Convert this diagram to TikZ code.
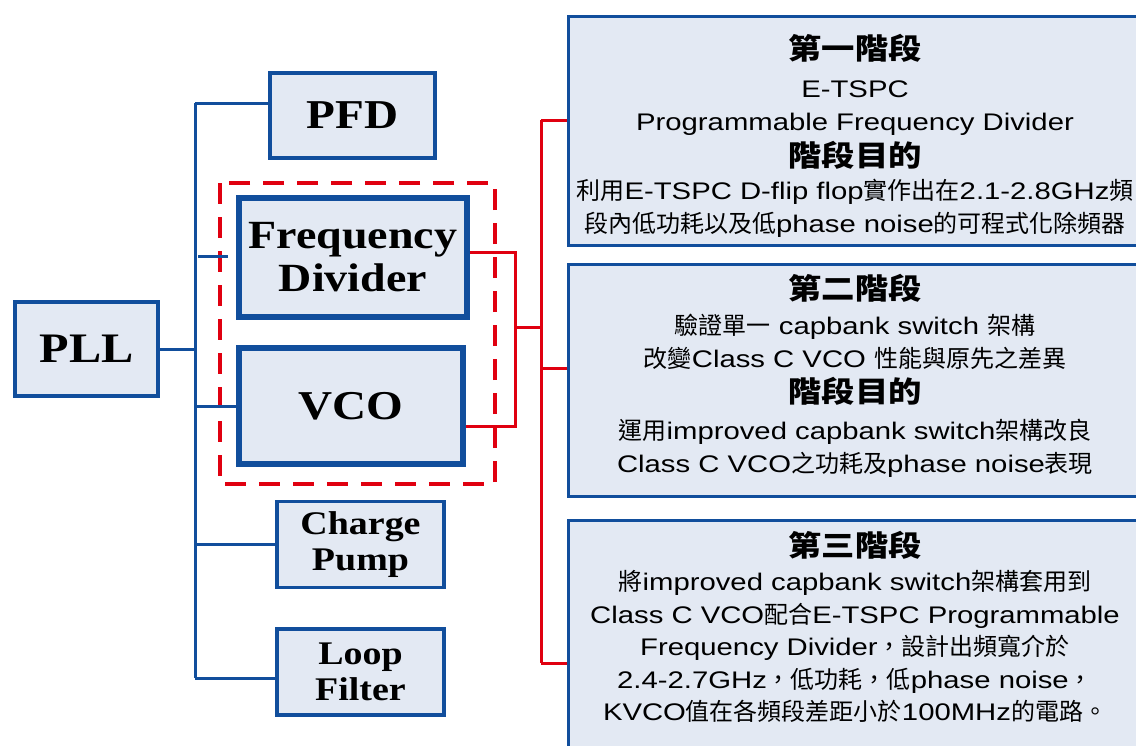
\documentclass[tikz,border=0pt]{standalone}
\usepackage{fontspec}
\setmainfont[FakeStretch=1.22]{Liberation Sans}
\newfontfamily\cjk{Noto Sans CJK TC}
\newfontfamily\cjkhead[FakeStretch=1.15]{Noto Sans CJK TC}
\newfontfamily\tnr[FakeStretch=1.15]{Liberation Serif}
\usepackage{xcolor}
\usepackage{tikz}
\usetikzlibrary{positioning, calc}
\definecolor{pllblue}{HTML}{114E9C}
\definecolor{boxfill}{HTML}{E3E9F3}
\definecolor{pllred}{HTML}{E00010}
\newcommand{\zh}[1]{{\cjk #1}}
\newcommand{\heading}[1]{{\cjkhead\bfseries\fontsize{29}{33}\selectfont #1}}
\tikzset{
    blk/.style={draw=pllblue, fill=boxfill, line width=3.5pt, align=center, inner sep=0pt,
        font=\tnr\bfseries\fontsize{41}{43}\selectfont},
    thickblk/.style={blk, line width=5.5pt, font=\tnr\bfseries\fontsize{40}{43}\selectfont},
    smallblk/.style={blk, minimum width=167pt, minimum height=86pt,
        font=\tnr\bfseries\fontsize{33}{36}\selectfont},
    stage/.style={draw=pllblue, fill=boxfill, line width=3pt, minimum width=572pt},
    stagetext/.style={align=center, inner sep=0pt, font=\fontsize{24}{33}\selectfont},
    bluelink/.style={draw=pllblue, line width=3pt},
    redlink/.style={draw=pllred, line width=3pt},
    % dashed frame round divider and VCO
    group/.style={draw=pllred, line width=4pt, dash pattern=on 21pt off 13pt},
}

\begin{document}
\begin{tikzpicture}[x=1pt, y=-1pt]
    \useasboundingbox (0,0) rectangle (1136,745);
    \clip (0,0) rectangle (1136,745);
    \fill[white] (0,0) rectangle (1136,745);

    \draw[group] (220,183) rectangle (495,484);

    \node[blk, minimum width=143pt, minimum height=94pt, font=\tnr\bfseries\fontsize{42}{43}\selectfont] (pll) at (86.5,349) {PLL};
    \node[blk, minimum width=165pt, minimum height=85pt] (pfd) at (352.5,115.5) {PFD};
    \node[thickblk, minimum width=228pt, minimum height=119pt] (fd) at (353,257.5) {Frequency\\Divider};
    \node[thickblk, minimum width=224pt, minimum height=116pt, font=\tnr\bfseries\fontsize{41}{43}\selectfont] (vco) at (351,406) {VCO};
    \node[smallblk] (cp) at (360.5,544.5) {Charge\\Pump};
    \node[smallblk] (lf) at (360.5,672) {Loop\\Filter};

    \coordinate (ttop) at (195,103);
    \coordinate (tbot) at (195,678);
    \draw[bluelink] (ttop) -- (tbot);
    \draw[bluelink] (ttop) -- (ttop -| pfd.west);
    \draw[bluelink] (pll.east) -- (pll.east -| ttop);
    \draw[bluelink] (ttop |- vco.west) -- (vco.west);
    \draw[bluelink] (ttop |- cp.west) -- (cp.west);
    \draw[bluelink] (tbot) -- (tbot -| lf.west);
    \coordinate (stub) at ($(fd.west)+(-38,-1.5)$);
    \draw[bluelink] (stub) -- ++(30,0);

    \node[stage, minimum height=229pt] (s1) at (854.5,131) {};
    \node[stage, minimum height=232pt] (s2) at (854.5,380.5) {};
    \node[stage, minimum height=240pt] (s3) at (854.5,640) {};

    \coordinate (fdout) at ($(fd.east)+(0,-5.5)$);
    \coordinate (vcoout) at ($(vco.east)+(0,20)$);
    \coordinate (rjoin) at (515,327);
    \coordinate (rtop) at (541,120);
    \coordinate (rmid) at (541,368);
    \coordinate (rbot) at (541,663);
    \draw[redlink] (fdout) -| (rjoin) |- (vcoout);
    \draw[redlink] (rjoin) -- (rjoin -| rtop);
    \draw[redlink] (rtop) -- (rbot);
    \draw[redlink] (rtop) -- (rtop -| s1.west);
    \draw[redlink] (rmid) -- (rmid -| s2.west);
    \draw[redlink] (rbot) -- (rbot -| s3.west);

    \node[stagetext] (t1) at (855,136) {\heading{第一階段}\\[5pt]
        E-TSPC\\
        Programmable Frequency Divider\\[3pt]
        \heading{階段目的}\\
        \zh{利用}E-TSPC D-flip flop\zh{實作出在}2.1-2.8GHz\zh{頻}\\
        \zh{段內低功耗以及低}phase noise\zh{的可程式化除頻器}};
    \node[stagetext] (t2) at (855,376) {\heading{第二階段}\\[2pt]
        \zh{驗證單一} capbank switch \zh{架構}\\
        \zh{改變}Class C VCO \zh{性能與原先之差異}\\[2pt]
        \heading{階段目的}\\[4pt]
        \zh{運用}improved capbank switch\zh{架構改良}\\
        Class C VCO\zh{之功耗及}phase noise\zh{表現}};
    \node[stagetext, font=\fontsize{24}{32.5}\selectfont] (t3) at (855,627) {\heading{第三階段}\\[2pt]
        \zh{將}improved capbank switch\zh{架構套用到}\\
        Class C VCO\zh{配合}E-TSPC Programmable\\
        Frequency Divider\zh{，設計出頻寬介於}\\
        2.4-2.7GHz\zh{，低功耗，低}phase noise\zh{，}\\
        KVCO\zh{值在各頻段差距小於}100MHz\zh{的電路。}};
\end{tikzpicture}
\end{document}
